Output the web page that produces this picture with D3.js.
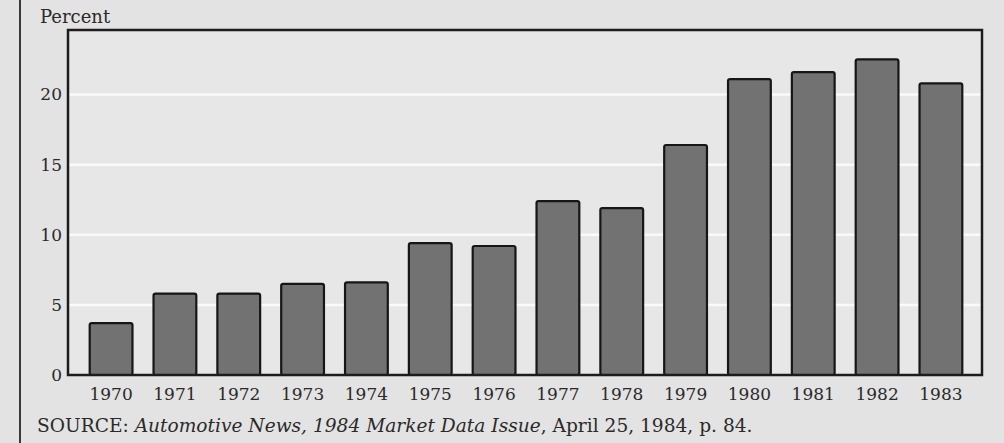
<!DOCTYPE html>
<html>
<head>
<meta charset="utf-8">
<script src="https://cdn.jsdelivr.net/npm/d3@7"></script>
<style>
  html, body { margin: 0; padding: 0; background: #e3e3e3; }
  svg { display: block; font-family: "DejaVu Serif", serif; }
</style>
</head>
<body>
<svg width="1004" height="443"></svg>
<script>
// values
var years = ["1970", "1971", "1972", "1973", "1974", "1975", "1976",
             "1977", "1978", "1979", "1980", "1981", "1982", "1983"];
var percents = [3.7, 5.8, 5.8, 6.5, 6.6, 9.4, 9.2, 12.4, 11.9, 16.4, 21.1, 21.6, 22.5, 20.8];
var yTicks = [0, 5, 10, 15, 20];
var yLabel = "Percent";
var sourceParts = [
  {text: "SOURCE: ", italic: false},
  {text: "Automotive News, 1984 Market Data Issue", italic: true},
  {text: ", April 25, 1984, p. 84.", italic: false}
];

document.addEventListener("DOMContentLoaded", main);

function main() {
  var svg = d3.select("svg"),
      margin = {top: 30, right: 22, bottom: 68, left: 68},
      width = +svg.attr("width") - margin.left - margin.right,
      height = +svg.attr("height") - margin.top - margin.bottom;

  // left page border
  svg.append("line")
      .attr("x1", 20).attr("x2", 20)
      .attr("y1", 0).attr("y2", 443)
      .attr("stroke", "#3a3a3a")
      .attr("stroke-width", 2);

  var x = d3.scaleBand()
      .domain(years)
      .range([0, width + 2])
      .paddingInner(0.33)
      .paddingOuter(0.34);

  var y = d3.scaleLinear()
      .domain([0, 24.6])
      .range([height, 0]);

  var g = svg.append("g")
      .attr("transform", "translate(" + margin.left + "," + margin.top + ")");

  // plot background
  g.append("rect")
      .attr("width", width)
      .attr("height", height)
      .attr("fill", "#e7e7e7");

  // white gridlines
  g.selectAll(".grid")
      .data(yTicks.slice(1))
      .enter()
      .append("line")
        .attr("class", "grid")
        .attr("x1", 0)
        .attr("x2", width)
        .attr("y1", function(d) { return y(d); })
        .attr("y2", function(d) { return y(d); })
        .attr("stroke", "#fafafa")
        .attr("stroke-width", 2.5);

  g.selectAll(".bar")
      .data(percents)
      .enter()
      .append("rect")
        .attr("class", "bar")
        .attr("x", function(d, i) { return x(years[i]); })
        .attr("y", function(d) { return y(d); })
        .attr("width", x.bandwidth())
        .attr("height", function(d) { return height - y(d); })
        .attr("rx", 2)
        .attr("fill", "#727272")
        .attr("stroke", "#161616")
        .attr("stroke-width", 2.2);

  // frame round the plot
  g.append("rect")
      .attr("width", width)
      .attr("height", height)
      .attr("fill", "none")
      .attr("stroke", "#1c1c1c")
      .attr("stroke-width", 2.5);

  var yAxis = g.append("g")
      .attr("class", "axis axis--y")
      .call(d3.axisLeft(y).tickValues(yTicks).tickSize(0).tickPadding(6));

  var xAxis = g.append("g")
      .attr("class", "axis axis--x")
      .attr("transform", "translate(0," + height + ")")
      .call(d3.axisBottom(x).tickSize(0).tickPadding(13));

  // axes only carry labels, the frame draws the lines
  svg.selectAll(".axis .domain").remove();
  svg.selectAll(".axis text")
      .attr("font-family", "DejaVu Serif, serif")
      .attr("font-size", "17px")
      .attr("fill", "#2a2a2a");

  svg.append("text")
      .attr("x", 40)
      .attr("y", 23)
      .attr("font-size", "18px")
      .attr("fill", "#2a2a2a")
      .text(yLabel);

  var source = svg.append("text")
      .attr("x", 37)
      .attr("y", 432)
      .attr("font-size", "18.6px")
      .attr("fill", "#2a2a2a");

  source.selectAll("tspan")
      .data(sourceParts)
      .enter()
      .append("tspan")
        .attr("font-style", function(d) { return d.italic ? "italic" : "normal"; })
        .text(function(d) { return d.text; });
}
</script>
</body>
</html>
